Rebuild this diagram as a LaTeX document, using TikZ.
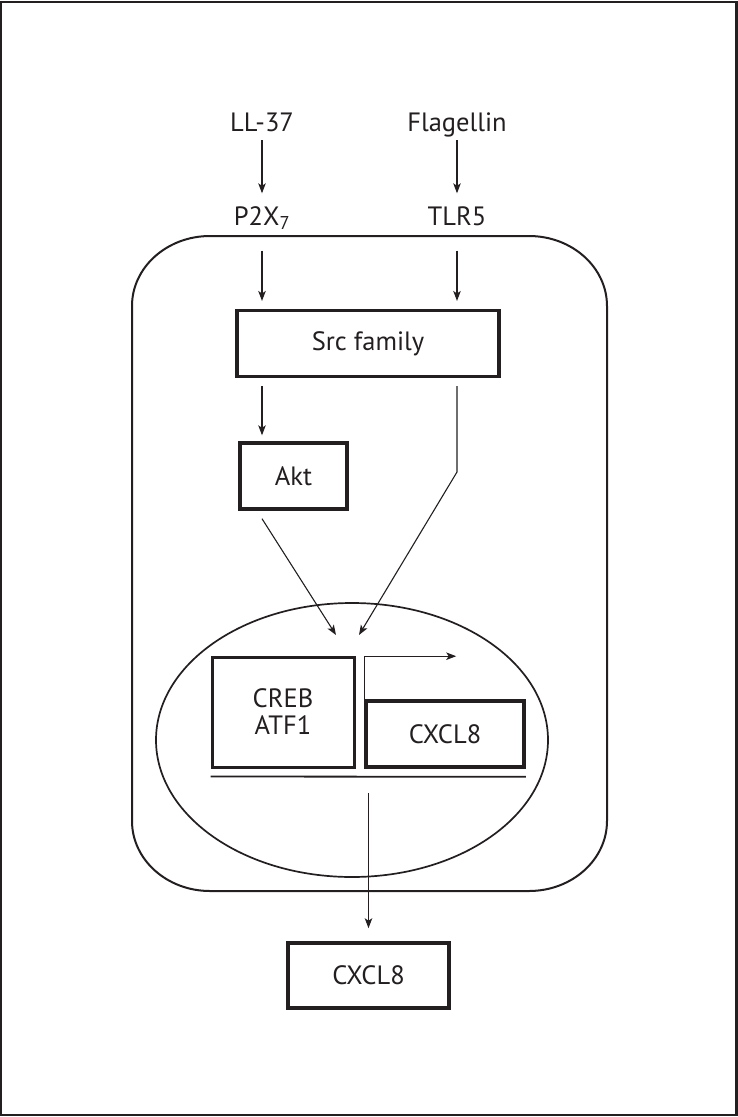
\documentclass[tikz,border=0pt]{standalone}
\usepackage{fontspec}
\setmainfont{PT Sans}
\usetikzlibrary{arrows.meta,calc,shapes.geometric}
\definecolor{ink}{RGB}{35,31,32}
\begin{document}
\begin{tikzpicture}[x=1pt,y=-1pt,
  every node/.style={text=ink},
  lbl/.style={inner sep=0pt,text height=19pt,text depth=0pt,font=\fontsize{26.5}{30}\selectfont},
  box/.style={draw=ink,inner sep=0pt,font=\fontsize{26.5}{30}\selectfont,align=center},
  arr/.style={draw=ink,line width=1.1pt,-{Stealth[length=10pt,width=7.5pt,inset=2.5pt]}},
  thin/.style={draw=ink,line width=1pt}]
\useasboundingbox (0,0) rectangle (738,1117);
\draw[ink,line width=2.2pt] (1,2) rectangle (736.5,1115);
% labels
\node[lbl] (ll) at (262,122) {LL-37};
\node[lbl] (fl) at (457,122) {Flagellin};
\node[lbl] (p2x) at (262,216) {P2X\textsubscript{7}};
\node[lbl] (tlr) at (457,216) {TLR5};
% cell
\draw[ink,line width=2pt] (210,236) -- (529,236)
  arc[start angle=90,end angle=0,x radius=78pt,y radius=70pt] -- (607,821)
  arc[start angle=0,end angle=-90,x radius=78pt,y radius=70pt] -- (210,891)
  arc[start angle=270,end angle=180,x radius=78pt,y radius=70pt] -- (132,306)
  arc[start angle=180,end angle=90,x radius=78pt,y radius=70pt] -- cycle;
% boxes
\node[box,line width=3.1pt,minimum width=262pt,minimum height=66pt] (src) at (368,343.5) {Src family};
\node[box,line width=3.4pt,minimum width=107pt,minimum height=66pt] (akt) at (293.5,476) {Akt};
% nucleus
\node[draw=ink,line width=1.7pt,ellipse,minimum width=392pt,minimum height=274pt,inner sep=0pt] (nuc) at (352,740) {};
\node[box,line width=3pt,minimum width=142pt,minimum height=110pt] (creb) at (283,712) {CREB\\[-3pt]ATF1};
\node[box,line width=3.6pt,minimum width=158pt,minimum height=66pt] (cx) at (445,734) {CXCL8};
\node[box,line width=3.6pt,minimum width=161pt,minimum height=65pt] (out) at (368.5,975.5) {CXCL8};
% coordinates for free ends
\coordinate (tgtL) at (336,635);
\coordinate (tgtR) at (359,635);
\coordinate (bend) at (457,472);
% connectors
\draw[arr,shorten <=8.5pt,shorten >=13pt] (ll.south) -- (p2x.north);
\draw[arr,shorten <=8.5pt,shorten >=13pt] (fl.south) -- (tlr.north);
\draw[arr,shorten <=25pt,shorten >=8pt] (p2x.south) -- (p2x.south |- src.north);
\draw[arr,shorten <=25pt,shorten >=8pt] (tlr.south) -- (tlr.south |- src.north);
\draw[arr,shorten <=8pt,shorten >=6pt] (src.south -| p2x) -- (akt.north -| p2x);
\draw[arr] ($(src.south -| tlr)+(0,8)$) -- (bend) -- (tgtR);
\draw[arr] ($(akt.south -| p2x)+(0,8)$) -- (tgtL);
\draw[arr] (cx.north west) -- ++(0,-43) -- ++(92,0);
\draw[ink,line width=1.8pt] ($(creb.south west)+(0,8)$) -- ($(cx.south east)+(0,8)$);
\draw[arr,shorten >=13pt] ($(out.north |- nuc.center)+(0,53)$) -- (out.north);
\end{tikzpicture}
\end{document}
